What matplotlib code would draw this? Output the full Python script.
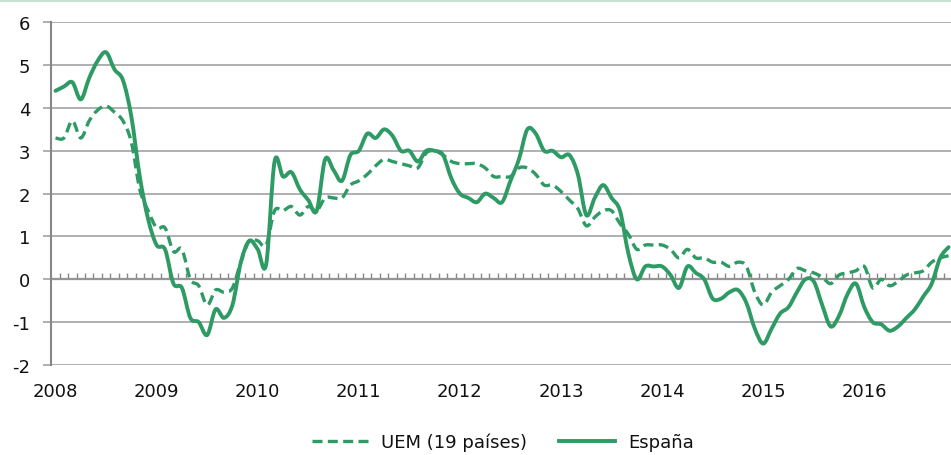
import numpy as np
import pandas as pd
import matplotlib
matplotlib.use('Agg')
import matplotlib.pyplot as plt
from matplotlib.path import Path
from matplotlib.patches import PathPatch
from matplotlib.lines import Line2D

plt.rcParams['font.family'] = ['DejaVu Sans']
plt.rcParams['axes.unicode_minus'] = False

# monthly categories Jan 2008 - Nov 2016
months = pd.date_range('2008-01-01', '2016-11-01', freq='MS')
years = [str(y) for y in range(2008, 2017)]

# annual inflation rate (%)
espana = [4.4, 4.5, 4.6, 4.2, 4.7, 5.1, 5.3, 4.9, 4.65, 3.8, 2.4, 1.4,
          0.8, 0.7, -0.1, -0.2, -0.9, -1.0, -1.3, -0.7, -0.9, -0.6, 0.4, 0.9,
          0.7, 0.35, 2.75, 2.4, 2.5, 2.1, 1.85, 1.6, 2.8, 2.55, 2.3, 2.9,
          3.0, 3.4, 3.3, 3.5, 3.35, 3.0, 3.0, 2.75, 3.0, 3.0, 2.9, 2.35,
          2.0, 1.9, 1.8, 2.0, 1.9, 1.8, 2.3, 2.8, 3.5, 3.4, 3.0, 3.0,
          2.85, 2.9, 2.45, 1.5, 1.9, 2.2, 1.9, 1.6, 0.6, 0.0, 0.3, 0.3,
          0.3, 0.1, -0.2, 0.3, 0.15, 0.0, -0.45, -0.45, -0.3, -0.25, -0.55, -1.15,
          -1.5, -1.15, -0.8, -0.65, -0.3, 0.0, -0.05, -0.6, -1.1, -0.85, -0.35, -0.1,
          -0.65, -1.0, -1.05, -1.2, -1.1, -0.9, -0.7, -0.4, -0.1, 0.5, 0.75]
uem = [3.3, 3.3, 3.7, 3.3, 3.7, 3.95, 4.05, 3.9, 3.7, 3.2, 2.1, 1.6,
       1.2, 1.2, 0.65, 0.7, 0.0, -0.15, -0.6, -0.25, -0.3, -0.2, 0.4, 0.9,
       0.9, 0.8, 1.6, 1.6, 1.7, 1.5, 1.7, 1.6, 1.9, 1.9, 1.9, 2.2,
       2.3, 2.45, 2.65, 2.8, 2.75, 2.7, 2.65, 2.6, 2.95, 3.0, 2.9, 2.75,
       2.7, 2.7, 2.7, 2.6, 2.4, 2.4, 2.4, 2.6, 2.6, 2.45, 2.2, 2.2,
       2.05, 1.85, 1.65, 1.25, 1.45, 1.6, 1.6, 1.3, 1.05, 0.7, 0.8, 0.8,
       0.8, 0.7, 0.5, 0.7, 0.5, 0.5, 0.4, 0.4, 0.3, 0.4, 0.3, -0.3,
       -0.6, -0.3, -0.15, 0.0, 0.25, 0.2, 0.15, 0.05, -0.1, 0.1, 0.15, 0.2,
       0.3, -0.2, 0.0, -0.15, -0.05, 0.1, 0.15, 0.2, 0.4, 0.5, 0.55]

GREEN = '#2e9a64'
GRID = '#9a9a9a'
AXIS = '#878787'
TXT = '#111111'
FS = 13


def smooth_path(x, y):
    # excel-like smoothed line: cubic bezier through every point
    n = len(x)
    verts = [(x[0], y[0])]
    codes = [Path.MOVETO]
    for i in range(n - 1):
        xa, ya = (x[i - 1], y[i - 1]) if i > 0 else (x[i], y[i])
        xb, yb = (x[i + 2], y[i + 2]) if i + 2 < n else (x[i + 1], y[i + 1])
        c1 = (x[i] + (x[i + 1] - xa) / 6, y[i] + (y[i + 1] - ya) / 6)
        c2 = (x[i + 1] - (xb - x[i]) / 6, y[i + 1] - (yb - y[i]) / 6)
        verts += [c1, c2, (x[i + 1], y[i + 1])]
        codes += [Path.CURVE4] * 3
    return Path(verts, codes)


fig = plt.figure(figsize=(9.51, 4.56), dpi=100)
ax = fig.add_axes([51.3 / 951, 90 / 456, (951 - 51.3) / 951, 342.7 / 456])

idx = np.arange(len(months))
ax.set_xlim(-0.5, (951 - 55) / 8.43)
ax.set_ylim(-2, 6)

# gridlines
ax.set_yticks(range(-2, 7))
ax.yaxis.grid(True, color=GRID, lw=1.1)
ax.set_axisbelow(True)
for s in ['top', 'right', 'bottom']:
    ax.spines[s].set_visible(False)
ax.spines['left'].set_color(AXIS)
ax.spines['left'].set_linewidth(1.5)
ax.tick_params(axis='y', direction='out', length=6, width=1.1, color=GRID,
               pad=9, labelsize=FS, labelcolor=TXT)

# year labels at january
jan = [i for i, m in enumerate(months) if m.month == 1]
ax.set_xticks(jan)
ax.set_xticklabels(years)
ax.tick_params(axis='x', length=0, pad=12.5, labelsize=FS, labelcolor=TXT)

# zero axis with monthly tick marks
zero = ax.secondary_xaxis(0.25)
zero.set_xticks(idx[1:] - 0.5)
zero.tick_params(direction='in', length=4.5, width=1.0, color=AXIS,
                 labelbottom=False, labeltop=False)
zero.spines['bottom'].set_color(AXIS)
zero.spines['bottom'].set_linewidth(1.6)

ax.add_patch(PathPatch(smooth_path(idx, uem), fill=False, edgecolor=GREEN,
                       lw=2.4, linestyle=(0, (3.0, 1.6)), capstyle='butt'))
ax.add_patch(PathPatch(smooth_path(idx, espana), fill=False, edgecolor=GREEN,
                       lw=2.8, joinstyle='round', capstyle='round'))

handles = [Line2D([], [], color=GREEN, lw=2.4, linestyle=(0, (3.0, 1.6))),
           Line2D([], [], color=GREEN, lw=2.8)]
fig.legend(handles, ['UEM (19 países)', 'España'], loc='center',
           bbox_to_anchor=(503 / 951, 1 - 443 / 456), ncol=2, frameon=False,
           fontsize=FS, handlelength=3.1, handletextpad=0.7, columnspacing=1.8,
           labelcolor=TXT)

# thin border at top of the image
fig.add_artist(Line2D([0, 1], [1 - 2 / 456, 1 - 2 / 456], color='#b7ddc9', lw=1.2))

fig.savefig('out.png', dpi=100)
